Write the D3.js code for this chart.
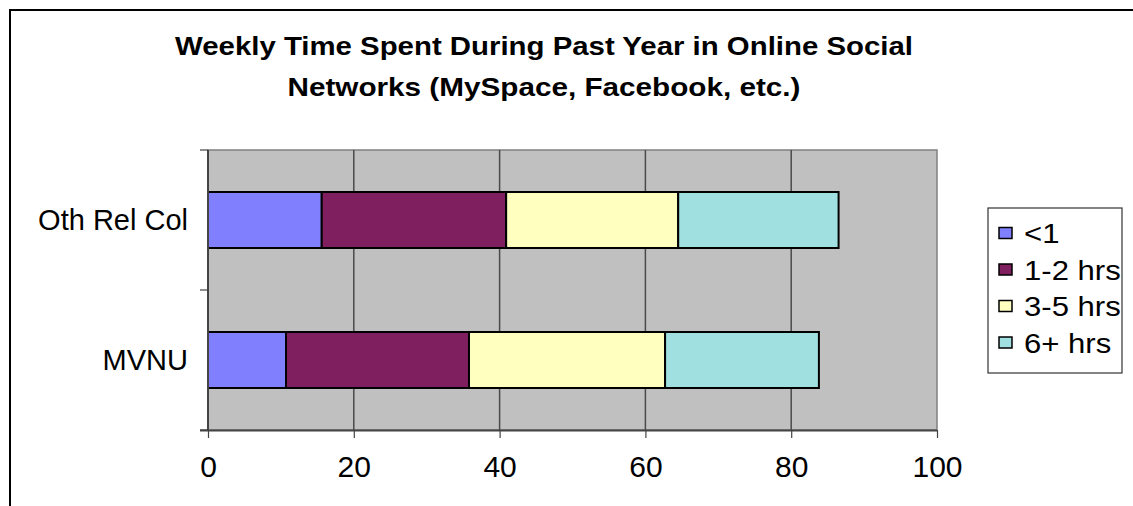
<!DOCTYPE html>
<html>
<head>
<meta charset="utf-8">
<script src="https://cdn.jsdelivr.net/npm/d3@7"></script>
<style>
  html, body { margin: 0; padding: 0; background: #fff; }
  svg { display: block; font-family: "Liberation Sans", Arial, sans-serif; }
</style>
</head>
<body>
<svg id="chart" width="1133" height="506"></svg>
<script>
// ---- data ----
const categories = ["Oth Rel Col", "MVNU"];
const seriesNames = ["<1", "1-2 hrs", "3-5 hrs", "6+ hrs"];
const lessThan1 = [15.6, 10.7];
const hrs1to2   = [25.3, 25.1];
const hrs3to5   = [23.6, 26.9];
const hrs6plus  = [22.0, 21.1];
const xTicks = [0, 20, 40, 60, 80, 100];
const titleLines = ["Weekly Time Spent During Past Year in Online Social", "Networks (MySpace, Facebook, etc.)"];
const colors = ["#8080FF", "#7F1F5F", "#FFFFC0", "#A0E0E0"];

const seriesValues = [lessThan1, hrs1to2, hrs3to5, hrs6plus];
const rows = categories.map((c, i) => {
  const r = { cat: c };
  seriesNames.forEach((s, j) => r[s] = seriesValues[j][i]);
  return r;
});

const svg = d3.select("#chart");
const W = 1133, H = 506;
const plot = { left: 208, right: 937, top: 150, bottom: 430 };

// outer border
svg.append("rect").attr("x", 0).attr("y", 0).attr("width", W).attr("height", H).attr("fill", "#fff");
svg.append("rect").attr("x", 10).attr("y", 10).attr("width", W + 20).attr("height", H + 20)
  .attr("fill", "none").attr("stroke", "#000").attr("stroke-width", 2);

// title
const titleWidths = [738, 513];
svg.append("g").selectAll("text").data(titleLines).join("text")
  .attr("x", 544).attr("y", (d, i) => 55 + i * 41)
  .attr("text-anchor", "middle").attr("font-weight", "bold").attr("font-size", 26)
  .attr("textLength", (d, i) => titleWidths[i]).attr("lengthAdjust", "spacingAndGlyphs")
  .attr("fill", "#000").text(d => d);

const x = d3.scaleLinear().domain([0, 100]).range([plot.left, plot.right]);
const y = d3.scaleBand().domain(categories).range([plot.top, plot.bottom]).paddingInner(0).paddingOuter(0);

// plot area background
svg.append("rect").attr("x", plot.left).attr("y", plot.top)
  .attr("width", plot.right - plot.left).attr("height", plot.bottom - plot.top)
  .attr("fill", "#C0C0C0").attr("stroke", "#808080").attr("stroke-width", 1.5);

// vertical gridlines
svg.append("g").selectAll("line").data(xTicks.slice(1, -1)).join("line")
  .attr("x1", d => x(d)).attr("x2", d => x(d))
  .attr("y1", plot.top).attr("y2", plot.bottom)
  .attr("stroke", "#4a4a4a").attr("stroke-width", 1.5);

// stacked bars
const stack = d3.stack().keys(seriesNames)(rows);
const barH = y.bandwidth() * 0.4;
svg.append("g").selectAll("g").data(stack).join("g")
  .attr("fill", (d, i) => colors[i])
  .selectAll("rect").data(d => d).join("rect")
  .attr("x", d => x(d[0]))
  .attr("y", d => y(d.data.cat) + (y.bandwidth() - barH) / 2)
  .attr("width", d => x(d[1]) - x(d[0]))
  .attr("height", barH)
  .attr("stroke", "#000").attr("stroke-width", 2);

// x axis
const xAxis = d3.axisBottom(x).tickValues(xTicks).tickSize(8).tickPadding(18).tickFormat(d3.format("d"));
const gx = svg.append("g").attr("transform", `translate(0,${plot.bottom})`).call(xAxis);
gx.select(".domain").attr("stroke", "#444").attr("stroke-width", 2).attr("d", `M${plot.left - 8},0.5H${plot.right}`);
gx.selectAll(".tick line").attr("stroke", "#444").attr("stroke-width", 1.2);
gx.selectAll(".tick text").attr("font-size", 30).attr("fill", "#000")
  .attr("font-family", "'Liberation Sans', Arial, sans-serif").attr("dy", "0.71em");

// y axis (category boundaries ticks)
const yAxis = svg.append("g");
yAxis.append("line").attr("x1", plot.left).attr("x2", plot.left).attr("y1", plot.top).attr("y2", plot.bottom)
  .attr("stroke", "#444").attr("stroke-width", 2);
const boundaries = [plot.top].concat(categories.map(c => y(c) + y.bandwidth()));
yAxis.selectAll("line.tk").data(boundaries).join("line").attr("class", "tk")
  .attr("x1", plot.left - 8).attr("x2", plot.left).attr("y1", d => d).attr("y2", d => d)
  .attr("stroke", "#444").attr("stroke-width", 1.2);
yAxis.selectAll("text").data(categories).join("text")
  .attr("x", plot.left - 20).attr("y", d => y(d) + y.bandwidth() / 2)
  .attr("dy", "0.36em").attr("text-anchor", "end").attr("font-size", 29).attr("fill", "#000")
  .text(d => d);

// legend
const lg = svg.append("g");
lg.append("rect").attr("x", 988).attr("y", 208).attr("width", 134).attr("height", 165)
  .attr("fill", "#fff").attr("stroke", "#333").attr("stroke-width", 1.2);
const items = lg.selectAll("g").data(seriesNames).join("g")
  .attr("transform", (d, i) => `translate(999,${233 + i * 36.5})`);
items.append("rect").attr("x", 0).attr("y", -5.5).attr("width", 13).attr("height", 11)
  .attr("fill", (d, i) => colors[i]).attr("stroke", "#000").attr("stroke-width", 1.5);
items.append("text").attr("x", 0).attr("y", 0).attr("dy", "0.36em")
  .attr("transform", "translate(25,0) scale(1.11,1)")
  .attr("font-size", 28).attr("fill", "#000").text(d => d);
</script>
</body>
</html>
